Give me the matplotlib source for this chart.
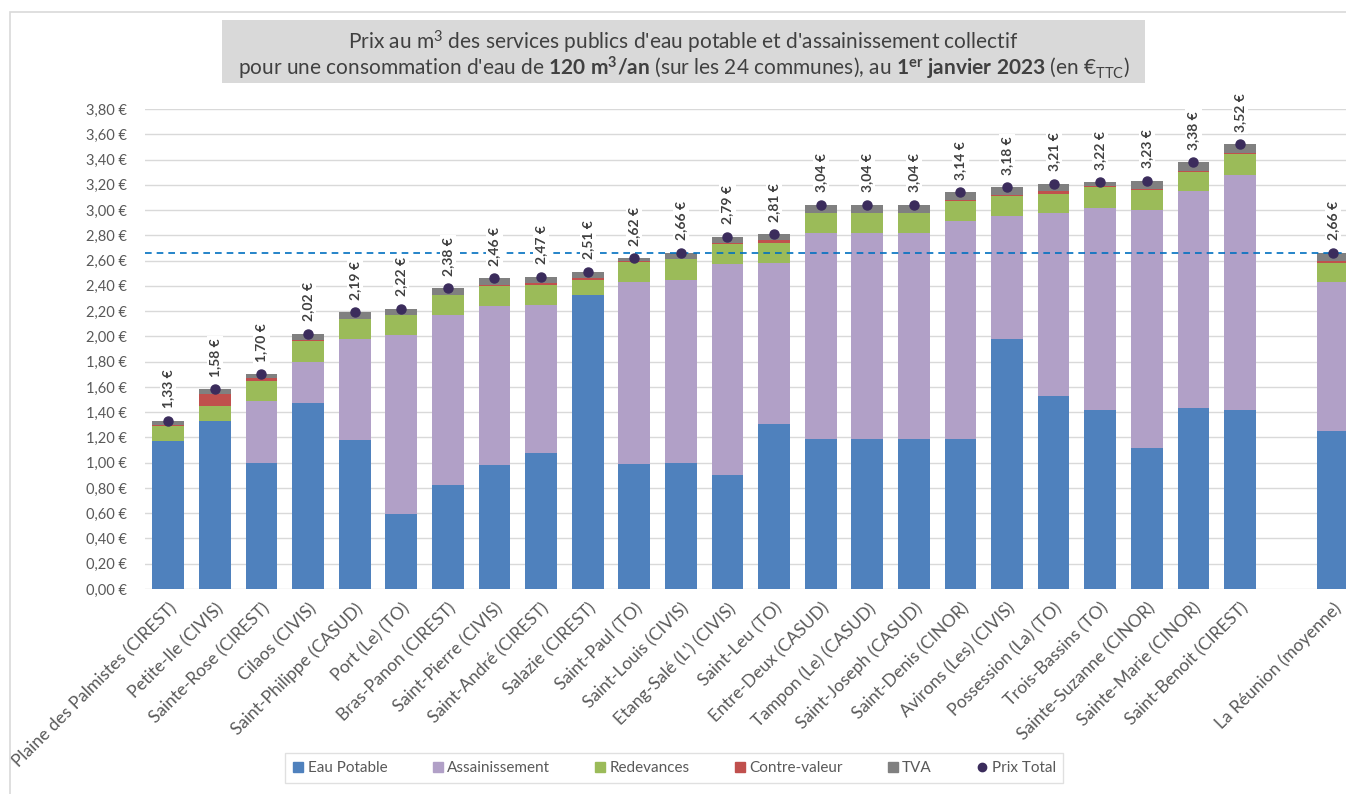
import numpy as np
import matplotlib
matplotlib.use("Agg")
import matplotlib.pyplot as plt
from matplotlib.lines import Line2D
from matplotlib.patches import Rectangle

FONT = "Lato"
plt.rcParams["font.family"] = [FONT, "DejaVu Sans"]
plt.rcParams["mathtext.fontset"] = "custom"
plt.rcParams["mathtext.rm"] = FONT
plt.rcParams["mathtext.bf"] = FONT + ":bold"
plt.rcParams["mathtext.it"] = FONT + ":italic"

communes = [
    "Plaine des Palmistes (CIREST)", "Petite-Ile (CIVIS)", "Sainte-Rose (CIREST)",
    "Cilaos (CIVIS)", "Saint-Philippe (CASUD)", "Port (Le) (TO)", "Bras-Panon (CIREST)",
    "Saint-Pierre (CIVIS)", "Saint-André (CIREST)", "Salazie (CIREST)", "Saint-Paul (TO)",
    "Saint-Louis (CIVIS)", "Etang-Salé (L') (CIVIS)", "Saint-Leu (TO)", "Entre-Deux (CASUD)",
    "Tampon (Le) (CASUD)", "Saint-Joseph (CASUD)", "Saint-Denis (CINOR)", "Avirons (Les) (CIVIS)",
    "Possession (La) (TO)", "Trois-Bassins (TO)", "Sainte-Suzanne (CINOR)", "Sainte-Marie (CINOR)",
    "Saint-Benoit (CIREST)", "La Réunion (moyenne)",
]
eau_potable = [1.17, 1.33, 1.00, 1.47, 1.18, 0.59, 0.82, 0.98, 1.08, 2.33, 0.99, 1.00, 0.90,
               1.31, 1.19, 1.19, 1.19, 1.19, 1.98, 1.53, 1.42, 1.12, 1.43, 1.42, 1.25]
assainissement = [0.00, 0.00, 0.49, 0.33, 0.80, 1.42, 1.35, 1.26, 1.17, 0.00, 1.44, 1.45, 1.67,
                  1.27, 1.63, 1.63, 1.63, 1.72, 0.97, 1.45, 1.60, 1.88, 1.72, 1.86, 1.18]
redevances = [0.12, 0.12, 0.16, 0.16, 0.16, 0.16, 0.16, 0.16, 0.16, 0.12, 0.16, 0.16, 0.16,
              0.16, 0.16, 0.16, 0.16, 0.16, 0.16, 0.15, 0.16, 0.16, 0.15, 0.16, 0.15]
contre_valeur = [0.01, 0.09, 0.02, 0.01, 0.00, 0.00, 0.00, 0.01, 0.01, 0.01, 0.01, 0.00, 0.01,
                 0.02, 0.00, 0.00, 0.00, 0.01, 0.01, 0.02, 0.01, 0.01, 0.01, 0.01, 0.02]
tva = [0.03, 0.04, 0.03, 0.05, 0.05, 0.05, 0.05, 0.05, 0.05, 0.05, 0.02, 0.05, 0.05,
       0.05, 0.06, 0.06, 0.06, 0.06, 0.06, 0.06, 0.03, 0.06, 0.07, 0.07, 0.06]
prix_total = [1.33, 1.58, 1.70, 2.02, 2.19, 2.22, 2.38, 2.46, 2.47, 2.51, 2.62, 2.66, 2.79,
              2.81, 3.04, 3.04, 3.04, 3.14, 3.18, 3.21, 3.22, 3.23, 3.38, 3.52, 2.66]
moyenne = 2.66
yticks = np.round(np.arange(0, 3.81, 0.2), 2)

series = [
    ("Eau Potable", eau_potable, "#4F81BD"),
    ("Assainissement", assainissement, "#B1A0C7"),
    ("Redevances", redevances, "#9BBB59"),
    ("Contre-valeur", contre_valeur, "#C0504D"),
    ("TVA", tva, "#808080"),
]
dot_color = "#3B2C5C"
txt_color = "#595959"

W, H = 1346, 794
fig = plt.figure(figsize=(W / 100, H / 100), dpi=100)

# outer chart border
fig.patches.append(Rectangle((10 / W, -0.05), 1.1, 1 - 12 / H + 0.05, transform=fig.transFigure,
                             fill=False, edgecolor="#D9D9D9", lw=1.2, zorder=0))

ax_left, ax_right = 145 / W, 1.0
ax_bottom, ax_top = 1 - 589 / H, 1 - 109 / H
ax = fig.add_axes([ax_left, ax_bottom, ax_right - ax_left, ax_top - ax_bottom])

n = len(communes)
x = np.concatenate([np.arange(n - 1), [n]]).astype(float)
width = 0.68
bottom = np.zeros(n)
for name, vals, col in series:
    v = np.array(vals)
    ax.bar(x, v, width, bottom=bottom, color=col, label=name, zorder=3, linewidth=0)
    bottom += v

tot = np.array(prix_total)
ax.plot(x, tot, "o", color=dot_color, ms=6.5, zorder=5, linestyle="none")
for xi, t in zip(x, tot):
    ax.annotate(f"{t:.2f} €".replace(".", ","), (xi, t), xytext=(0, 9), textcoords="offset points",
                rotation=90, ha="center", va="bottom", fontsize=10, fontweight="bold",
                color="#404040", zorder=6,
                bbox=dict(boxstyle="square,pad=0.15", fc="white", ec="none"))

ax.axhline(moyenne, color="#0070C0", ls=(0, (4, 3)), lw=1.2, zorder=4, clip_on=False)

ax.set_ylim(0, 3.8)
ax.set_xlim(-0.5, (W - 169) / 46.57)
ax.set_yticks(yticks)
ax.set_yticklabels([f"{v:.2f} €".replace(".", ",") for v in yticks], color=txt_color, fontsize=10.5)
ax.set_xticks(x)
ax.set_xticklabels(communes, rotation=45, ha="right", rotation_mode="anchor", color=txt_color,
                   fontsize=12.5)
ax.tick_params(axis="both", length=0)
ax.tick_params(axis="y", pad=13)
ax.tick_params(axis="x", pad=8)
ax.grid(axis="y", color="#D9D9D9", lw=1, zorder=0)
ax.set_axisbelow(True)
for s in ax.spines.values():
    s.set_visible(False)

# title box
fig.patches.append(Rectangle((222 / W, 1 - 83 / H), (1145 - 222) / W, 63 / H, transform=fig.transFigure,
                             facecolor="#D9D9D9", edgecolor="none", zorder=1))
cx = (222 + 1145) / 2 / W
fig.text(cx, 1 - 42 / H, r"Prix au m$^{3}$ des services publics d'eau potable et d'assainissement collectif",
         ha="center", va="center", fontsize=15, color="#404040", zorder=2)
fig.text(cx, 1 - 68 / H,
         r"pour une consommation d'eau de $\mathbf{120\ m^{3}/an}$ (sur les 24 communes), au "
         r"$\mathbf{1^{er}\ janvier\ 2023}$ (en €$_{\mathrm{TTC}}$)",
         ha="center", va="center", fontsize=15, color="#404040", zorder=2)

handles = [Line2D([], [], marker="s", ls="none", color=c, ms=7) for _, _, c in series]
handles.append(Line2D([], [], marker="o", ls="none", color=dot_color, ms=6))
labels = [s[0] for s in series] + ["Prix Total"]
leg = fig.legend(handles, labels, loc="center", bbox_to_anchor=(674 / W, 1 - 768 / H), ncol=6,
                 frameon=True, fancybox=False, edgecolor="#D9D9D9", fontsize=11,
                 handletextpad=0.2, columnspacing=2.9, handlelength=0.8,
                 borderpad=0.5, borderaxespad=0)
for t in leg.get_texts():
    t.set_color(txt_color)

fig.savefig("out.png", dpi=100)
